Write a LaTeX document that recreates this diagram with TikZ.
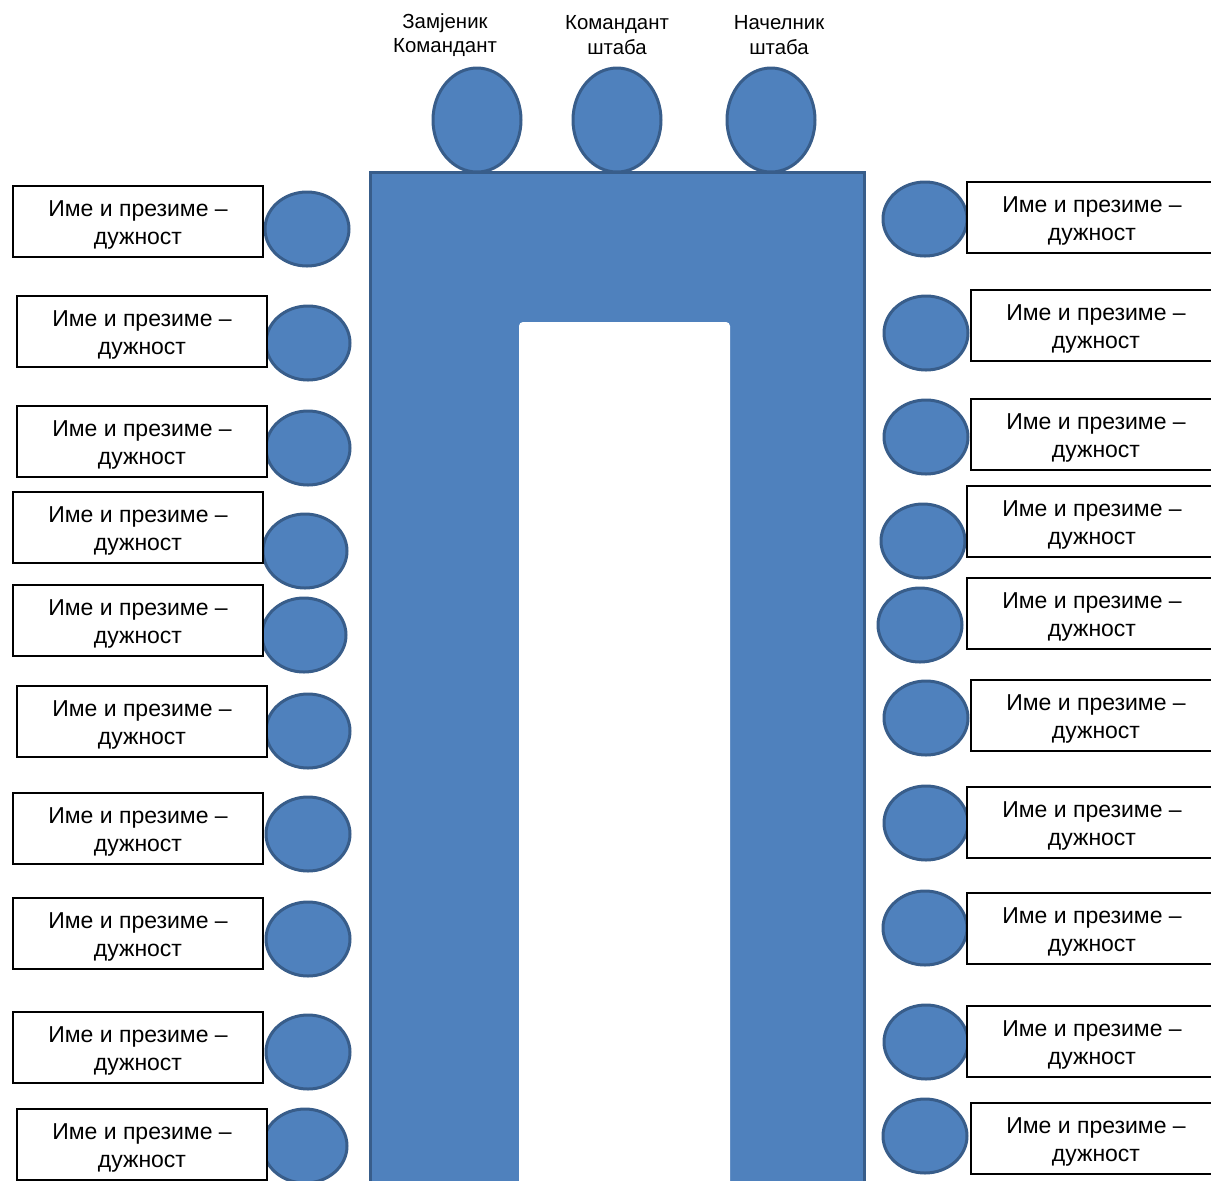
\documentclass[tikz,border=0pt]{standalone}
\usepackage{fontspec}
\setmainfont{Liberation Sans}
\usetikzlibrary{shapes.geometric}
\definecolor{seatfill}{HTML}{4F81BD}
\definecolor{seatline}{HTML}{385D8A}
\tikzset{
  seat/.style={ellipse, draw=seatline, fill=seatfill, line width=1.5pt, inner sep=0pt},
  topseat/.style={seat, minimum width=44pt, minimum height=52pt},
  sideseat/.style={seat, minimum width=42pt, minimum height=37pt},
  namebox/.style={rectangle, draw=black, fill=white, line width=1pt, inner sep=0pt, align=center,
    minimum width=125pt, minimum height=35.5pt, anchor=north west, text height=25pt,
    font=\fontsize{11.5pt}{14pt}\selectfont},
  toplabel/.style={align=center, inner sep=0pt, font=\fontsize{10.2pt}{12.2pt}\selectfont},
}
\begin{document}
\begin{tikzpicture}[x=0.5pt,y=-0.5pt]
\useasboundingbox (0,0) rectangle (1211,1180);
\clip (0,0) rectangle (1211,1180);
% table
\path[fill=seatfill, draw=seatline, line width=1.5pt] (370,172) rectangle (864,1200);
\path[fill=white, rounded corners=2pt] (519,322) rectangle (730,1200);
% top seats
\node[topseat] (t1) at (477,120) {};
\node[topseat] (t2) at (617,120) {};
\node[topseat] (t3) at (771,120) {};
\node[toplabel] (lt1) at (445,35) {Замјеник\\Командант};
\node[toplabel] (lt2) at (617,35) {Командант\\штаба};
\node[toplabel] (lt3) at (779,35) {Начелник\\штаба};
% left seats
\foreach \i/\cx/\cy in {1/307/229, 2/308/343, 3/308/448, 4/305/551, 5/304/635, 6/308/731, 7/308/834, 8/308/939, 9/308/1052, 10/305/1146}
  \node[sideseat] (ls\i) at (\cx,\cy) {};
% right seats
\foreach \i/\cx/\cy in {1/925/219, 2/926/333, 3/926/437, 4/923/541, 5/920/625, 6/926/718, 7/926/823, 8/925/928, 9/926/1042, 10/925/1136}
  \node[sideseat] (rs\i) at (\cx,\cy) {};
% left boxes
\foreach \i/\xa/\ya in {1/12/185, 2/16/295, 3/16/405, 4/12/491, 5/12/584, 6/16/685, 7/12/792, 8/12/897, 9/12/1011, 10/16/1108}
  \node[namebox] (lb\i) at (\xa,\ya) {Име и презиме –\\дужност};
% right boxes
\foreach \i/\xa/\ya in {1/966/181, 2/970/289, 3/970/398, 4/966/485, 5/966/577, 6/970/679, 7/966/786, 8/966/892, 9/966/1005, 10/970/1102}
  \node[namebox] (rb\i) at (\xa,\ya) {Име и презиме –\\дужност};
\end{tikzpicture}
\end{document}
